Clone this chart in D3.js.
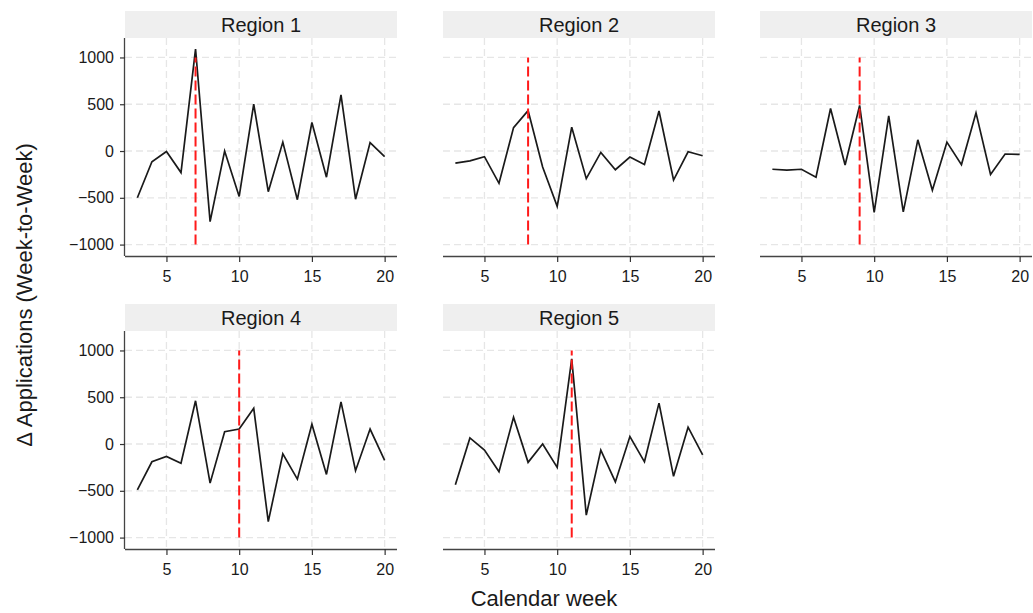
<!DOCTYPE html>
<html>
<head>
<meta charset="utf-8">
<script src="https://cdn.jsdelivr.net/npm/d3@7"></script>
<style>
  html, body { margin: 0; padding: 0; background: #fff; }
  svg { display: block; font-family: "Liberation Sans", Arial, sans-serif; }
</style>
</head>
<body>
<svg id="chart" width="1033" height="613"></svg>
<script>
// Calendar weeks observed in every region
const weeks = [3, 4, 5, 6, 7, 8, 9, 10, 11, 12, 13, 14, 15, 16, 17, 18, 19, 20];

// Week-to-week change in applications per region
const region1 = [-500, -115, -5, -230, 1090, -755, 0, -485, 500, -435, 95, -520, 305, -280, 600, -515, 90, -60];
const region2 = [-130, -105, -60, -345, 250, 432, -170, -590, 255, -295, -15, -200, -65, -145, 428, -310, -8, -50];
const region3 = [-195, -205, -195, -280, 455, -150, 487, -655, 375, -650, 120, -420, 95, -145, 408, -250, -32, -36];
const region4 = [-490, -190, -132, -205, 462, -418, 132, 160, 382, -830, -105, -375, 212, -325, 450, -285, 160, -175];
const region5 = [-435, 65, -65, -295, 287, -196, 0, -250, 910, -760, -65, -405, 80, -190, 437, -345, 180, -115];

const regionNames = ["Region 1", "Region 2", "Region 3", "Region 4", "Region 5"];
const eventWeeks = [7, 8, 9, 10, 11];          // week of the event in each region
const xTicks = [5, 10, 15, 20];
const yTicks = [-1000, -500, 0, 500, 1000];
const eventRange = [-1000, 1000];                // vertical extent of the event marker

const series = [region1, region2, region3, region4, region5];

// Facet layout
const colLeft = [125, 443, 760];
const rowTop = [11, 304];
const panelW = 272;
const stripH = 27;
const plotH = 218;

const svg = d3.select("#chart");

const x = d3.scaleLinear().domain([2.15, 20.85]).range([0, panelW]);
const y = d3.scaleLinear().domain([-1122, 1208]).range([plotH, 0]);

const line = d3.line()
  .x(d => x(d.week))
  .y(d => y(d.value));

series.forEach((vals, i) => {
  const col = i % 3, row = Math.floor(i / 3);
  const g = svg.append("g")
    .attr("transform", `translate(${colLeft[col]},${rowTop[row]})`);

  // strip
  g.append("rect")
    .attr("x", 0).attr("y", 0)
    .attr("width", panelW).attr("height", stripH)
    .attr("fill", "#efefef");
  g.append("text")
    .attr("x", panelW / 2).attr("y", stripH / 2 + 7)
    .attr("text-anchor", "middle")
    .attr("font-size", 20)
    .attr("fill", "#1a1a1a")
    .text(regionNames[i]);

  const p = g.append("g").attr("transform", `translate(0,${stripH})`);

  // dashed grid
  p.append("g").selectAll("line").data(yTicks).join("line")
    .attr("x1", 0).attr("x2", panelW)
    .attr("y1", d => y(d)).attr("y2", d => y(d))
    .attr("stroke", "#e6e6e6").attr("stroke-width", 1.3)
    .attr("stroke-dasharray", "7,4");
  p.append("g").selectAll("line").data(xTicks).join("line")
    .attr("y1", 0).attr("y2", plotH)
    .attr("x1", d => x(d)).attr("x2", d => x(d))
    .attr("stroke", "#e6e6e6").attr("stroke-width", 1.3)
    .attr("stroke-dasharray", "7,4");

  // series line
  const pts = weeks.map((w, k) => ({ week: w, value: vals[k] }));
  p.append("path")
    .datum(pts)
    .attr("d", line)
    .attr("fill", "none")
    .attr("stroke", "#1a1a1a")
    .attr("stroke-width", 1.7)
    .attr("stroke-linejoin", "miter");

  // event marker
  p.append("line")
    .attr("x1", x(eventWeeks[i])).attr("x2", x(eventWeeks[i]))
    .attr("y1", y(eventRange[0])).attr("y2", y(eventRange[1]))
    .attr("stroke", "#ff1a1a").attr("stroke-width", 2)
    .attr("stroke-dasharray", "10,4");

  // x axis
  const xa = p.append("g")
    .attr("transform", `translate(0,${plotH})`)
    .call(d3.axisBottom(x).tickValues(xTicks).tickSize(6).tickPadding(9).tickFormat(d3.format("d")));
  xa.select(".domain").attr("stroke", "#444").attr("stroke-width", 1.3).attr("d", `M0,0.5H${panelW}`);
  xa.selectAll(".tick line").attr("stroke", "#333").attr("stroke-width", 1.2);
  xa.selectAll(".tick text").attr("font-size", 16).attr("fill", "#1a1a1a")
    .attr("font-family", "'Liberation Sans', Arial, sans-serif");

  // y axis only in the first column
  if (col === 0) {
    const ya = p.append("g")
      .call(d3.axisLeft(y).tickValues(yTicks).tickSize(5).tickPadding(6).tickFormat(d3.format("d")));
    ya.select(".domain").attr("stroke", "#444").attr("stroke-width", 1.3).attr("d", `M-0.5,0V${plotH}`);
    ya.selectAll(".tick line").attr("stroke", "#333").attr("stroke-width", 1.2);
    ya.selectAll(".tick text").attr("font-size", 16).attr("fill", "#1a1a1a")
      .attr("font-family", "'Liberation Sans', Arial, sans-serif");
  }
});

// axis titles
svg.append("text")
  .attr("x", 544).attr("y", 606)
  .attr("text-anchor", "middle")
  .attr("font-size", 22)
  .attr("fill", "#1a1a1a")
  .text("Calendar week");

svg.append("text")
  .attr("transform", "translate(32,295) rotate(-90)")
  .attr("text-anchor", "middle")
  .attr("font-size", 22)
  .attr("fill", "#1a1a1a")
  .text("Δ Applications (Week-to-Week)");
</script>
</body>
</html>
